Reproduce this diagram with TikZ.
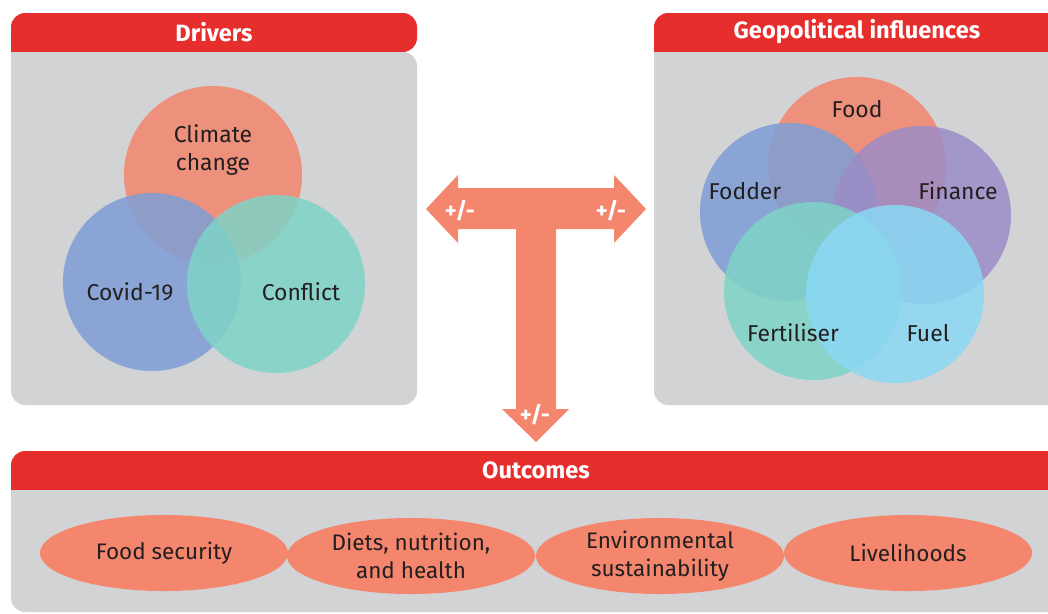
\documentclass[tikz,border=0pt]{standalone}
\usepackage{fontspec}
\setmainfont{Fira Sans}
\usetikzlibrary{shapes.geometric}

\definecolor{bmjred}{HTML}{E62E2D}
\definecolor{panelgrey}{HTML}{D1D3D5}
\definecolor{salmon}{HTML}{F4866D}
\definecolor{vennblue}{HTML}{7E9ED6}
\definecolor{vennteal}{HTML}{7ED3C8}
\definecolor{vennpurple}{HTML}{9C8CC6}
\definecolor{vennsky}{HTML}{8AD8F4}
\definecolor{ink}{HTML}{231F20}

\begin{document}
\begin{tikzpicture}[x=0.025cm, y=-0.025cm,
  title/.style={text=white, font=\bfseries\fontsize{16.8}{19}\selectfont},
  sign/.style={text=white, font=\bfseries\fontsize{16}{18}\selectfont},
  venn/.style={circle, minimum size=4.45cm, inner sep=0pt, fill opacity=0.85},
  vlabel/.style={text=ink, align=center, font=\fontsize{16.3}{20}\selectfont},
  outcome/.style={ellipse, fill=salmon, minimum width=6.2cm, minimum height=1.9cm,
    inner sep=0pt, text=ink, align=center, font=\fontsize{16}{20}\selectfont}]
  \useasboundingbox (0,0) rectangle (1048,613);
  \clip (0,0) rectangle (1048,613);

  \fill[bmjred, rounded corners=10] (11,52) -- (11,13) -- (417,13) -- (417,52) [sharp corners] -- cycle;
  \fill[panelgrey, rounded corners=10] (11,52) -- (11,405) -- (417,405) -- (417,52) [sharp corners] -- cycle;
  \fill[bmjred, rounded corners=10] (654,52) -- (654,13) -- (1070,13) -- (1070,52) [sharp corners] -- cycle;
  \fill[panelgrey, rounded corners=10] (654,52) -- (654,405) -- (1070,405) -- (1070,52) [sharp corners] -- cycle;
  \fill[bmjred, rounded corners=10] (11,490) -- (11,451) -- (1070,451) -- (1070,490) [sharp corners] -- cycle;
  \fill[panelgrey, rounded corners=10] (11,490) -- (11,612) -- (1070,612) -- (1070,490) [sharp corners] -- cycle;

  \node[title] (drivers) at (214,32) {Drivers};
  \node[title] (geo) at (857,32) {Geopolitical influences};
  \node[title] (outcomes) at (536,470) {Outcomes};

  \node[venn, fill=salmon] (climate) at (213,175) {};
  \node[venn, fill=vennblue] (covid) at (152,282) {};
  \node[venn, fill=vennteal] (conflict) at (276,284) {};
  \node[vlabel] at (213,150) {Climate\\change};
  \node[vlabel] at (130,292) {Covid-19};
  \node[vlabel] at (301,292) {Conflict};

  \node[venn, fill=salmon] (food) at (857,166) {};
  \node[venn, fill=vennblue] (fodder) at (789,212) {};
  \node[venn, fill=vennpurple] (finance) at (922,215) {};
  \node[venn, fill=vennteal] (fertiliser) at (813,291) {};
  \node[venn, fill=vennsky] (fuel) at (895,294) {};
  \node[vlabel] at (857,109) {Food};
  \node[vlabel] at (745,191) {Fodder};
  \node[vlabel] at (958,191) {Finance};
  \node[vlabel] at (793,333) {Fertiliser};
  \node[vlabel] at (928,333) {Fuel};

  \fill[salmon] (426,209) -- (458,175) -- (458,188) -- (614,188) -- (614,175) -- (646,209)
    -- (614,243) -- (614,229) -- (556,229) -- (556,409) -- (569,409) -- (536,442)
    -- (502,409) -- (516,409) -- (516,229) -- (458,229) -- (458,243) -- cycle;
  \node[sign] (signleft) at (460,211) {+/-};
  \node[sign] (signright) at (611,211) {+/-};
  \node[sign] (signdown) at (535,415) {+/-};

  \node[outcome] (security) at (164,553) {Food security};
  \node[outcome] (diets) at (411,556) {Diets, nutrition,\\and health};
  \node[outcome] (environment) at (660,556) {Environmental\\sustainability};
  \node[outcome] (livelihoods) at (908,553) {Livelihoods};
\end{tikzpicture}
\end{document}
